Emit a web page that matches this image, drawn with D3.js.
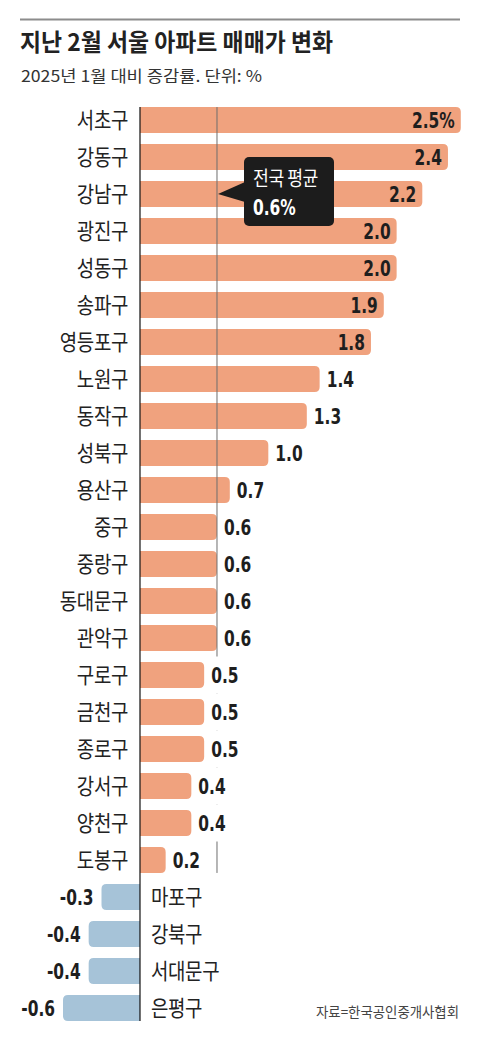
<!DOCTYPE html>
<html>
<head>
<meta charset="utf-8">
<script src="https://cdn.jsdelivr.net/npm/d3@7"></script>
<style>
  body { margin: 0; background: #fff; }
  text { font-family: "Noto Sans CJK KR", "Noto Sans", sans-serif; }
  .num { font-family: "DejaVu Sans Condensed", "Liberation Sans", sans-serif; font-weight: bold; }
</style>
</head>
<body>
<div id="chart"></div>
<script>
// 서울 자치구별 아파트 매매가 변화 (2025년 1월 대비, %)
let districts = ["서초구", "강동구", "강남구", "광진구", "성동구", "송파구", "영등포구", "노원구", "동작구", "성북구",
    "용산구", "중구", "중랑구", "동대문구", "관악구", "구로구", "금천구", "종로구", "강서구", "양천구",
    "도봉구", "마포구", "강북구", "서대문구", "은평구"];
let changes = [2.5, 2.4, 2.2, 2.0, 2.0, 1.9, 1.8, 1.4, 1.3, 1.0,
    0.7, 0.6, 0.6, 0.6, 0.6, 0.5, 0.5, 0.5, 0.4, 0.4,
    0.2, -0.3, -0.4, -0.4, -0.6];
let value_labels = ["2.5%", "2.4", "2.2", "2.0", "2.0", "1.9", "1.8", "1.4", "1.3", "1.0",
    "0.7", "0.6", "0.6", "0.6", "0.6", "0.5", "0.5", "0.5", "0.4", "0.4",
    "0.2", "-0.3", "-0.4", "-0.4", "-0.6"];
let national_avg = 0.6;
let title = "지난 2월 서울 아파트 매매가 변화";
let subtitle = "2025년 1월 대비 증감률. 단위: %";
let source = "자료=한국공인중개사협회";

let rows = districts.map((d, i) => ({ name: d, value: changes[i], label: value_labels[i] }));

let W = 480, H = 1040;
let svg = d3.select("div#chart")
    .append("svg")
    .attr("width", W)
    .attr("height", H);

let x = d3.scaleLinear().domain([-0.6, 2.5]).range([63, 460.8]);
let y = d3.scaleBand().domain(districts).range([101.5, 1026.5]).paddingInner(0.3).paddingOuter(0.15);
let bh = y.bandwidth();
let r = 5;
let numSx = 0.78, korSx = 0.86;

// header
svg.append("line")
    .attr("x1", 20).attr("x2", 460).attr("y1", 19.5).attr("y2", 19.5)
    .attr("stroke", "#8c8c8c").attr("stroke-width", 2);
svg.append("text")
    .attr("x", 20).attr("y", 51)
    .attr("font-size", 24).attr("font-weight", "bold").attr("fill", "#222")
    .attr("textLength", 313).attr("lengthAdjust", "spacingAndGlyphs")
    .text(title);
svg.append("text")
    .attr("x", 21).attr("y", 82)
    .attr("font-size", 16).attr("fill", "#333")
    .attr("textLength", 241).attr("lengthAdjust", "spacingAndGlyphs")
    .text(subtitle);

// bar with rounded end away from zero
let barPath = d => {
    let x0 = x(0), x1 = x(d.value), t = y(d.name), b = t + bh;
    let rr = Math.min(r, Math.abs(x1 - x0));
    if (d.value >= 0) {
        return `M${x0},${t}H${x1 - rr}Q${x1},${t} ${x1},${t + rr}V${b - rr}Q${x1},${b} ${x1 - rr},${b}H${x0}Z`;
    }
    return `M${x0},${t}H${x1 + rr}Q${x1},${t} ${x1},${t + rr}V${b - rr}Q${x1},${b} ${x1 + rr},${b}H${x0}Z`;
};

svg.append("g").selectAll("path").data(rows).enter().append("path")
    .attr("d", barPath)
    .attr("fill", d => d.value >= 0 ? "#f0a27e" : "#a6c3d8");

// national average line
let lastPos = rows.filter(d => d.value > 0).pop();
svg.append("line")
    .attr("x1", x(national_avg)).attr("x2", x(national_avg))
    .attr("y1", y(districts[0])).attr("y2", y(lastPos.name) + bh)
    .attr("stroke", "#6e6e6e").attr("stroke-width", 1);

// value labels
let inside = d => d.value >= 1.8;
let labelX = d => d.value < 0 ? x(d.value) - 8 : inside(d) ? x(d.value) - 6 : x(d.value) + 7;
let vg = svg.append("g").selectAll("g").data(rows).enter().append("g");
vg.append("text")
    .attr("class", "num")
    .attr("transform", d => `translate(${labelX(d)},${y(d.name) + bh / 2}) scale(${numSx},1)`)
    .attr("dy", "0.36em")
    .attr("text-anchor", d => (d.value < 0 || inside(d)) ? "end" : "start")
    .attr("font-size", 22)
    .attr("fill", "#1e1e1e")
    .text(d => d.label);
// white backing behind outside labels so the average line breaks around them
vg.each(function (d) {
    if (d.value < 0 || inside(d)) return;
    let g = d3.select(this);
    let bb = g.select("text").node().getBBox();
    g.insert("rect", "text")
        .attr("x", labelX(d) - 2).attr("width", bb.width * numSx + 4)
        .attr("y", y(d.name) - (y.step() - bh) / 2).attr("height", y.step())
        .attr("fill", "#fff");
});

// category labels
svg.append("g").selectAll("text").data(rows).enter().append("text")
    .attr("transform", d => `translate(${d.value >= 0 ? x(0) - 12 : x(0) + 11},${y(d.name) + bh / 2}) scale(${korSx},1)`)
    .attr("dy", "0.37em")
    .attr("text-anchor", d => d.value >= 0 ? "end" : "start")
    .attr("font-size", 22)
    .attr("letter-spacing", -0.4)
    .attr("fill", "#222")
    .text(d => d.name);

// zero axis
svg.append("line")
    .attr("x1", x(0)).attr("x2", x(0))
    .attr("y1", y(districts[0])).attr("y2", y(districts[districts.length - 1]) + bh)
    .attr("stroke", "#111").attr("stroke-width", 1.2);

// callout
let cx = x(national_avg) + 1, cy = y(districts[2]) + bh / 2;
let box = { x: 244, y: 157, w: 90, h: 69 };
let callout = svg.append("g");
callout.append("rect")
    .attr("x", box.x).attr("y", box.y).attr("width", box.w).attr("height", box.h)
    .attr("rx", 5).attr("fill", "#1c1c1c");
callout.append("path")
    .attr("d", `M${box.x + 1},${cy - 12}L${cx},${cy}L${box.x + 1},${cy + 8}Z`)
    .attr("fill", "#1c1c1c");
callout.append("text")
    .attr("transform", `translate(${box.x + 9},${box.y + 29}) scale(${korSx},1)`)
    .attr("font-size", 20).attr("letter-spacing", -0.5).attr("fill", "#fff")
    .text("전국 평균");
callout.append("text")
    .attr("class", "num")
    .attr("transform", `translate(${box.x + 9},${box.y + 58}) scale(${numSx},1)`)
    .attr("font-size", 22).attr("fill", "#fff")
    .text(national_avg + "%");

// source
svg.append("text")
    .attr("x", 316).attr("y", 1017)
    .attr("font-size", 14).attr("fill", "#444")
    .attr("textLength", 143).attr("lengthAdjust", "spacingAndGlyphs")
    .text(source);
</script>
</body>
</html>
